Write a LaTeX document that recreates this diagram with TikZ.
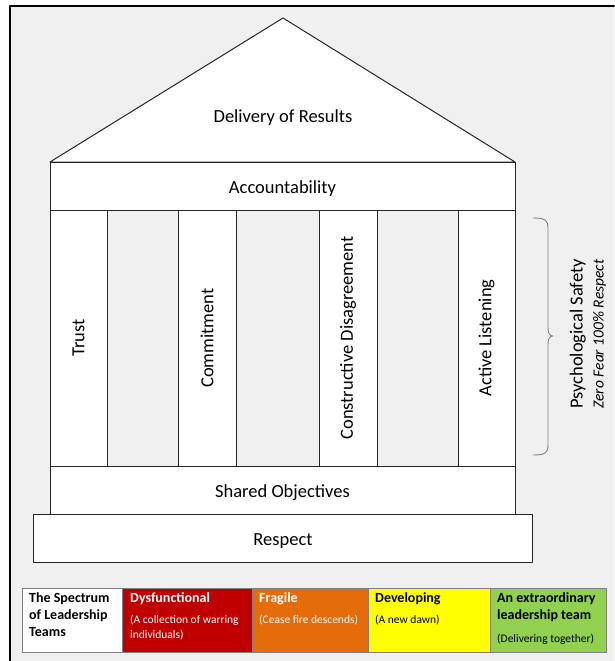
\documentclass[tikz,border=0pt]{standalone}
\usepackage{fontspec}
\setmainfont{Carlito}
\usepackage{tikz}
\definecolor{wall}{RGB}{240,240,240}
\definecolor{edge}{RGB}{38,38,38}
\definecolor{dysred}{RGB}{192,0,0}
\definecolor{fragorange}{RGB}{228,108,10}
\definecolor{devyellow}{RGB}{255,255,0}
\definecolor{extgreen}{RGB}{146,208,80}
\usetikzlibrary{positioning}
\tikzset{
    slab/.style = {draw=edge, line width=1pt, fill=white, minimum width=465pt, minimum height=48pt, text height=16pt, text depth=1pt, font=\fontsize{18.5}{22}\selectfont},
    pillar/.style = {draw=edge, line width=1pt, fill=white, rotate=90, minimum width=256pt, minimum height=57pt, font=\fontsize{18.5}{22}\selectfont},
    cell/.style = {draw=black!50, line width=0.8pt, minimum height=64pt, inner sep=0pt, outer sep=0pt},
    head/.style = {anchor=north west, align=left, inner sep=0pt, font=\bfseries\fontsize{14}{17}\selectfont},
    sub/.style = {anchor=north west, align=left, inner sep=0pt, font=\fontsize{11.5}{15}\selectfont}
}
\begin{document}
\begin{tikzpicture}[line cap=round,line join=round,x=1pt,y=-1pt]
    \useasboundingbox (0,0) rectangle (614,661);
    \fill [wall] (10,6) rectangle (614,661);
    \draw [line width=1.6pt] (10,661) -- (10,6) -- (614,6);

    \coordinate (eaveL) at (50,162);
    \coordinate (ridge) at (283,18);
    \coordinate (eaveR) at (515,162);
    \draw [draw=edge, line width=1pt, fill=white] (eaveL) -- (ridge) -- (eaveR) -- cycle;
    \node [font=\fontsize{18.5}{22}\selectfont] (results) at (283,117.5) {Delivery of Results};

    \node [slab] (account) at (282.5,186) {Accountability};
    \node [pillar] (trust) at (78.5,338) {Trust};
    \node [pillar, minimum height=58pt] (commit) at (207,338) {Commitment};
    \node [pillar, minimum height=58pt] (disagree) at (348,338) {Constructive Disagreement};
    \node [pillar] (listen) at (486.5,338) {Active Listening};
    \node [slab] (shared) at (282.5,490) {Shared Objectives};
    \node [slab, minimum width=499pt] (respect) at (283,538) {Respect};

    \coordinate (braceTop) at (533,218);
    \coordinate (braceTip) at (553,336);
    \coordinate (braceBot) at (533,455);
    \draw [black!50, line width=0.9pt] (braceTop) .. controls (545,218) and (548,220) .. (548,228) -- (548,328)
        .. controls (548,334) and (550,336) .. (braceTip) .. controls (550,336) and (548,338) .. (548,344)
        -- (548,445) .. controls (548,453) and (545,455) .. (braceBot);
    \node [rotate=90, align=center, font=\fontsize{18.5}{21}\selectfont] (safety) at (588,334)
        {Psychological Safety\\{\itshape\fontsize{15.5}{21}\selectfont Zero Fear 100\% Respect}};

    \node [cell, fill=white, minimum width=100pt, anchor=north west] (spectrum) at (22,588) {};
    \node [cell, fill=dysred, minimum width=130pt, right=0pt of spectrum] (dysfunc) {};
    \node [cell, fill=fragorange, minimum width=116pt, right=0pt of dysfunc] (fragile) {};
    \node [cell, fill=devyellow, minimum width=122pt, right=0pt of fragile] (develop) {};
    \node [cell, fill=extgreen, minimum width=116pt, right=0pt of develop] (extra) {};

    \node [head] (spectrumT) at ([xshift=7pt,yshift=-4.5pt]spectrum.north west) {The Spectrum\\of Leadership\\Teams};
    \node [head, text=white] (dysfuncT) at ([xshift=8pt,yshift=-4.5pt]dysfunc.north west) {Dysfunctional};
    \node [sub, text=white] (dysfuncS) at ([xshift=8pt,yshift=-27.3pt]dysfunc.north west) {(A collection of warring\\individuals)};
    \node [head, text=white] (fragileT) at ([xshift=7pt,yshift=-4.5pt]fragile.north west) {Fragile};
    \node [sub, text=white] (fragileS) at ([xshift=7pt,yshift=-27.3pt]fragile.north west) {(Cease fire descends)};
    \node [head] (developT) at ([xshift=7pt,yshift=-4.5pt]develop.north west) {Developing};
    \node [sub] (developS) at ([xshift=7pt,yshift=-27.3pt]develop.north west) {(A new dawn)};
    \node [head] (extraT) at ([xshift=7pt,yshift=-4.5pt]extra.north west) {An extraordinary\\leadership team};
    \node [sub] (extraS) at ([xshift=7pt,yshift=-46.3pt]extra.north west) {(Delivering together)};
\end{tikzpicture}
\end{document}
